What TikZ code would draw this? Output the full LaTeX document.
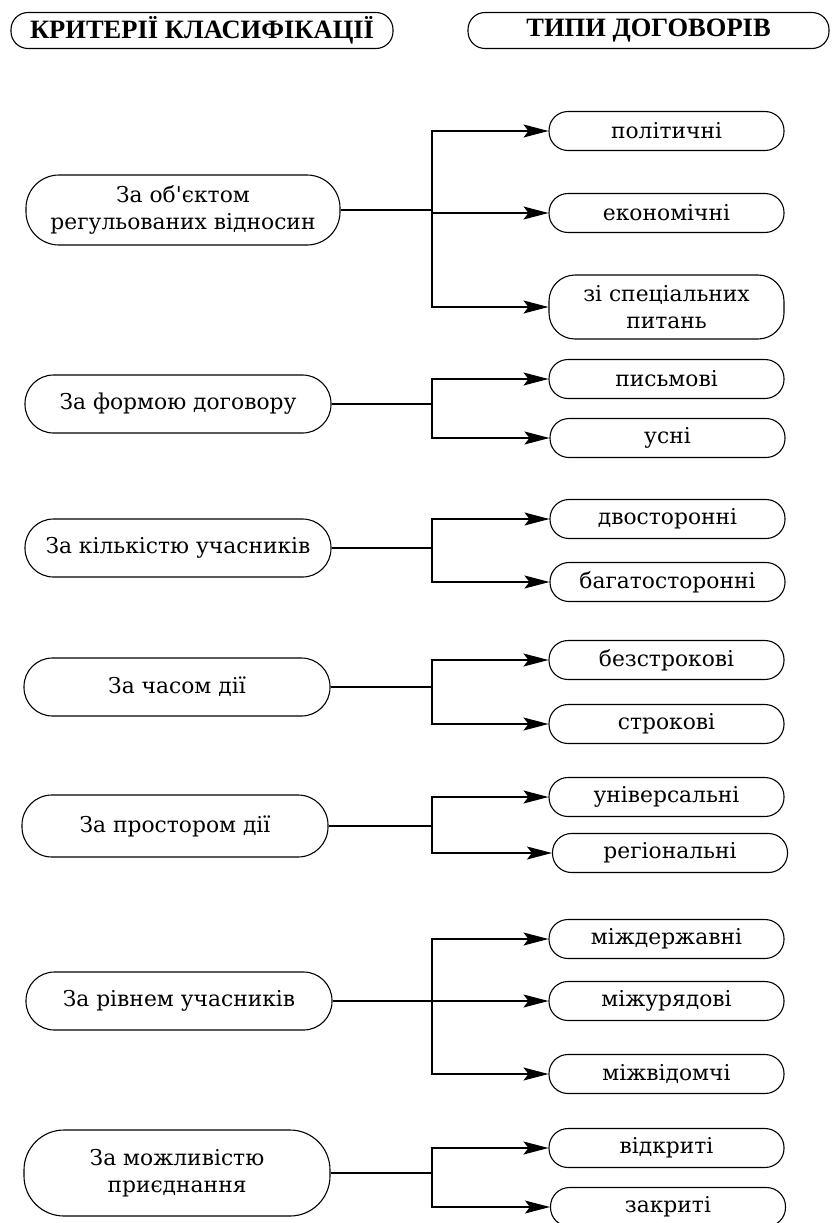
\documentclass[tikz,border=0pt]{standalone}
\usepackage{fontspec}
\setmainfont{DejaVu Serif}
\newfontfamily\hdrfont{Liberation Serif}
\usetikzlibrary{arrows.meta}
\begin{document}
\begin{tikzpicture}[x=1pt,y=-1pt,
  base/.style={draw, line width=1.1pt, align=center, inner sep=0pt,
    font=\fontsize{21.8}{27}\selectfont},
  crit/.style={base, rounded corners=28.5pt, minimum width=306pt, minimum height=58pt},
  kind/.style={base, rounded corners=19pt, minimum width=235pt, minimum height=39pt},
  head/.style={draw, line width=1.1pt, rounded corners=17pt, minimum height=36pt,
    inner sep=0pt, font=\hdrfont\bfseries\fontsize{26.5}{30}\selectfont},
  link/.style={line width=1.1pt},
  arr/.style={line width=1.1pt, -{Stealth[length=25pt, width=13pt, inset=5pt]}}
]
\useasboundingbox (0,0) rectangle (833,1223);

% headers
\node[head, minimum width=382pt] (h1) at (202,30.5) {КРИТЕРІЇ КЛАСИФІКАЦІЇ};
\node[head, minimum width=361pt] (h2) at (648.5,30.5) {ТИПИ ДОГОВОРІВ};

% criteria
\node[crit, minimum width=314pt, minimum height=70pt, rounded corners=33pt] (L1) at (183,210) {За об\textquotesingle єктом\\регульованих відносин};
\node[crit] (L2) at (178,404) {За формою договору};
\node[crit] (L3) at (178,548) {За кількістю учасників};
\node[crit] (L4) at (177,687) {За часом дії};
\node[crit, minimum height=62pt, rounded corners=30pt] (L5) at (175,826) {За простором дії};
\node[crit] (L6) at (179,1001) {За рівнем учасників};
\node[crit, minimum height=86pt, rounded corners=40pt] (L7) at (177,1173) {За можливістю\\приєднання};

% types
\node[kind] (R1a) at (666.5,131) {політичні};
\node[kind] (R1b) at (666.5,213) {економічні};
\node[kind, minimum height=64pt, rounded corners=26pt] (R1c) at (666.5,307) {зі спеціальних\\питань};
\node[kind] (R2a) at (666.5,379) {письмові};
\node[kind] (R2b) at (667.5,438) {усні};
\node[kind] (R3a) at (667.5,519) {двосторонні};
\node[kind] (R3b) at (667.5,582) {багатосторонні};
\node[kind] (R4a) at (666.5,660) {безстрокові};
\node[kind] (R4b) at (666.5,724) {строкові};
\node[kind] (R5a) at (666.5,797) {універсальні};
\node[kind] (R5b) at (670,853) {регіональні};
\node[kind] (R6a) at (666.5,939) {міждержавні};
\node[kind] (R6b) at (666.5,1001) {міжурядові};
\node[kind] (R6c) at (666.5,1074) {міжвідомчі};
\node[kind] (R7a) at (666.5,1148) {відкриті};
\node[kind] (R7b) at (668,1207) {закриті};

% junctions
\coordinate (j1) at (432,210);
\coordinate (j2) at (432,404);
\coordinate (j3) at (432,548);
\coordinate (j4) at (432,687);
\coordinate (j5) at (432,826);
\coordinate (j6) at (432,1001);
\coordinate (j7) at (432,1173);

\draw[link] (L1) -- (j1);
\draw[arr] (j1) |- (R1a);
\draw[arr] (j1) |- (R1b);
\draw[arr] (j1) |- (R1c);

\draw[link] (L2) -- (j2);
\draw[arr] (j2) |- (R2a);
\draw[arr] (j2) |- (R2b);

\draw[link] (L3) -- (j3);
\draw[arr] (j3) |- (R3a);
\draw[arr] (j3) |- (R3b);

\draw[link] (L4) -- (j4);
\draw[arr] (j4) |- (R4a);
\draw[arr] (j4) |- (R4b);

\draw[link] (L5) -- (j5);
\draw[arr] (j5) |- (R5a);
\draw[arr] (j5) |- (R5b);

\draw[link] (L6) -- (j6);
\draw[arr] (j6) |- (R6a);
\draw[arr] (j6) |- (R6b);
\draw[arr] (j6) |- (R6c);

\draw[link] (L7) -- (j7);
\draw[arr] (j7) |- (R7a);
\draw[arr] (j7) |- (R7b);
\end{tikzpicture}
\end{document}
